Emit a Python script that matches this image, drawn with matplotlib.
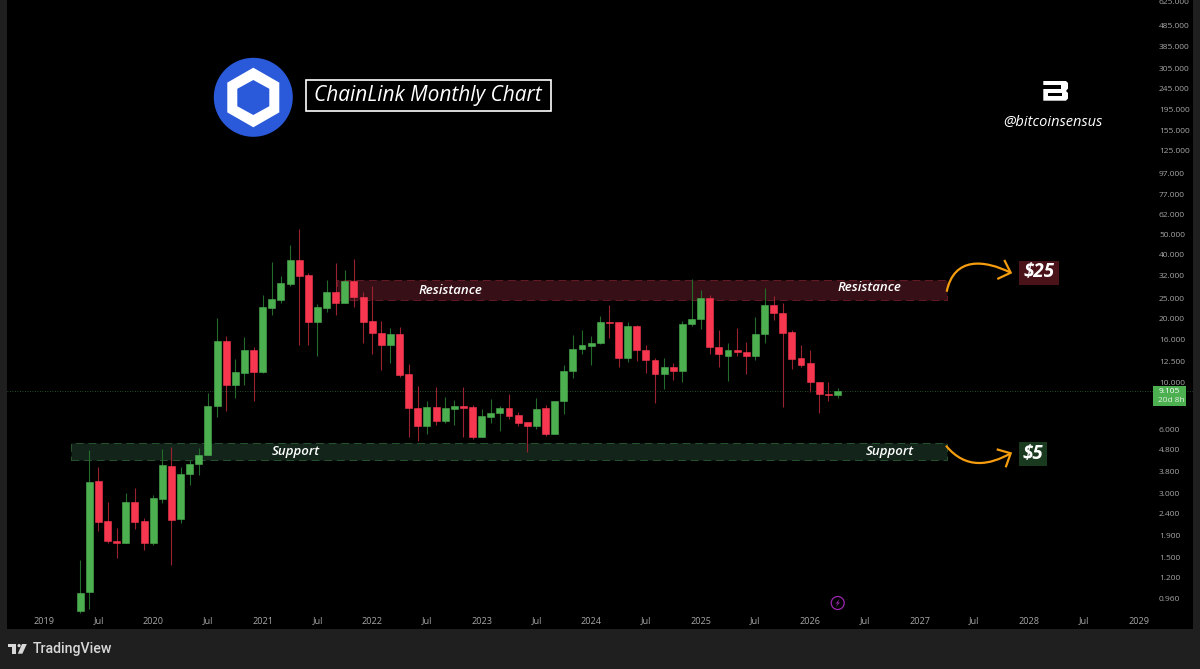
"""ChainLink monthly chart, TradingView dark style."""

import numpy as np
import matplotlib
matplotlib.use("Agg")
import matplotlib.pyplot as plt
from matplotlib.patches import Circle, PathPatch, Polygon, Rectangle
from matplotlib.path import Path
from matplotlib.ticker import FixedFormatter, FixedLocator, NullLocator

BG = "#000000"
PANEL = "#1f1f1f"
UP = "#4CAF50"
DOWN = "#F7374F"
UP_WICK = "#236B2B"
DOWN_WICK = "#9A2230"
AXIS_TEXT = "#a6a6a6"
ORANGE = "#F59D0E"
FONT = ["Open Sans", "DejaVu Sans"]

plt.rcParams["font.family"] = FONT

# months counted from Jan 2019
months = list(range(4, 88))
opens = [
    0.83, 1.03, 3.41, 2.22, 1.78, 1.75, 2.74, 2.21, 1.74, 2.83, 4.05, 2.26,
    3.70, 4.14, 4.55, 7.74, 15.64, 9.75, 11.12, 14.23, 11.2, 22.55, 24.6, 29.3,
    37.9, 32.0, 19.35, 22.4, 26.7, 23.8, 30.1, 25.4, 19.5, 17.2, 15.0, 17.0,
    10.97, 7.57, 6.26, 7.67, 6.58, 7.52, 7.78, 7.65, 5.55, 6.9, 7.15, 7.57,
    7.0, 6.5, 6.26, 7.57, 5.73, 8.15, 11.3, 14.4, 14.85, 15.3, 19.2, 19.2,
    13.0, 18.4, 14.23, 12.76, 11.0, 11.8, 11.35, 18.9, 19.9, 25.0, 14.75, 13.4,
    14.2, 14.0, 13.4, 17.0, 23.3, 21.3, 17.3, 13.0, 12.35, 10.0, 8.86, 8.7,
]
highs = [
    1.46, 4.80, 3.99, 2.73, 2.06, 3.00, 3.17, 2.28, 2.95, 4.86, 4.95, 3.99,
    4.30, 4.93, 8.96, 20.2, 16.6, 12.9, 16.45, 14.75, 25.8, 37.0, 31.9, 44.5,
    52.9, 32.7, 23.4, 30.45, 36.5, 33.9, 38.3, 26.8, 28.5, 19.5, 18.0, 18.3,
    12.2, 9.6, 8.17, 9.54, 8.54, 8.29, 9.54, 7.82, 7.47, 8.4, 7.75, 8.8,
    7.25, 6.52, 8.47, 7.82, 8.2, 12.05, 16.7, 17.68, 16.6, 20.6, 23.1, 19.2,
    19.3, 18.6, 15.0, 13.0, 13.0, 12.4, 19.4, 30.9, 27.3, 25.8, 17.6, 15.3,
    18.0, 15.6, 20.3, 28.0, 25.7, 23.8, 17.6, 15.0, 14.3, 10.0, 10.05, 9.4,
]
lows = [
    0.82, 0.85, 1.98, 1.74, 1.48, 1.74, 2.03, 1.62, 1.71, 2.69, 1.37, 2.16,
    3.29, 3.66, 4.54, 6.89, 7.30, 8.44, 9.71, 8.17, 11.05, 20.9, 23.7, 28.5,
    15.0, 15.0, 13.4, 21.4, 20.9, 23.6, 22.6, 15.4, 13.7, 11.45, 12.4, 10.6,
    5.55, 5.31, 5.74, 6.28, 6.47, 6.31, 5.55, 5.4, 5.5, 6.43, 5.9, 6.73,
    6.2, 4.72, 6.03, 5.6, 5.69, 7.1, 10.5, 13.6, 12.1, 15.25, 16.3, 11.8,
    12.5, 12.6, 11.05, 8.0, 9.3, 10.27, 10.1, 18.5, 17.85, 13.7, 11.8, 10.15,
    13.3, 11.0, 12.7, 15.4, 19.7, 7.65, 11.55, 11.8, 9.0, 7.15, 8.2, 8.44,
]
closes = [
    1.02, 3.39, 2.19, 1.78, 1.75, 2.72, 2.20, 1.74, 2.84, 4.08, 2.25, 3.70,
    4.13, 4.57, 7.74, 15.64, 9.75, 11.2, 14.23, 11.2, 22.65, 24.7, 29.5, 37.9,
    31.8, 19.35, 22.8, 26.7, 23.8, 30.1, 25.3, 19.35, 17.1, 15.0, 17.0, 10.8,
    7.55, 6.22, 7.67, 6.58, 7.57, 7.78, 7.6, 5.55, 6.93, 7.2, 7.57, 6.93,
    6.43, 6.26, 7.47, 5.7, 8.2, 11.3, 14.4, 14.95, 15.4, 19.2, 19.0, 13.0,
    18.4, 14.23, 12.76, 11.0, 11.8, 11.35, 18.9, 20.0, 25.0, 14.7, 13.7, 14.2,
    13.9, 13.4, 17.0, 23.3, 21.2, 17.2, 12.9, 12.1, 10.0, 8.8, 8.76, 9.105,
]
last_price = 9.105

price_ticks = [625, 485, 385, 305, 245, 195, 155, 125, 97, 77, 62, 50, 40, 32, 25,
               20, 16, 12.5, 10, 6, 4.8, 3.8, 3, 2.4, 1.9, 1.5, 1.2, 0.96]
time_labels = ["2019", "Jul", "2020", "Jul", "2021", "Jul", "2022", "Jul", "2023",
               "Jul", "2024", "Jul", "2025", "Jul", "2026", "Jul", "2027", "Jul",
               "2028", "Jul", "2029"]
time_ticks = list(range(0, 121, 6))

resistance_zone = (32.1, 98.96, 24.5, 30.4)
support_zone = (2.96, 98.96, 4.3, 5.2)

fig = plt.figure(figsize=(12, 6.69), dpi=100, facecolor=PANEL)
ax = fig.add_axes([7 / 1200, 1 - 629 / 669, 1186 / 1200, 629 / 669], facecolor=BG)
ax.set_yscale("log")
ax.set_xlim(-4.02, 125.96)
ax.set_ylim(0.686, 638.7)
for side in ax.spines.values():
    side.set_visible(False)

ax.yaxis.tick_right()
ax.yaxis.set_major_locator(FixedLocator(price_ticks))
ax.yaxis.set_major_formatter(FixedFormatter([f"{p:.3f}" for p in price_ticks]))
ax.yaxis.set_minor_locator(NullLocator())
ax.tick_params(axis="y", length=0, pad=-24.5, labelsize=6.0, labelcolor=AXIS_TEXT)
ax.set_xticks(time_ticks, time_labels)
ax.tick_params(axis="x", length=0, pad=-9, labelsize=6.6, labelcolor=AXIS_TEXT)

# zones
for (x0, x1, lo, hi), fill, edge in [
    (resistance_zone, "#361016", "#661A25"),
    (support_zone, "#13241A", "#28542D"),
]:
    ax.add_patch(Rectangle((x0, lo), x1 - x0, hi - lo, facecolor=fill, edgecolor=edge,
                           lw=0.7, linestyle=(0, (8, 5)), zorder=1))

ax.axhline(last_price, color="#2E6B33", lw=0.6, linestyle=(0, (1, 2)), zorder=1.5)

# candles
o = np.array(opens)
c = np.array(closes)
rising = c >= o
wick_colors = [UP_WICK if r else DOWN_WICK for r in rising]
body_colors = [UP if r else DOWN for r in rising]
ax.vlines(months, lows, highs, colors=wick_colors, lw=0.8, zorder=2)
ax.bar(months, np.abs(c - o), bottom=np.minimum(o, c), width=0.76, color=body_colors,
       edgecolor=body_colors, lw=0.4, zorder=3)

# everything drawn on top of the chart is laid out in pixels
ov = fig.add_axes([0, 0, 1, 1], facecolor="none")
ov.set_xlim(0, 1200)
ov.set_ylim(669, 0)
ov.axis("off")

# link logo
ov.add_patch(Circle((253.3, 97.3), 39.5, color="#2A5ADA", lw=0))
ov.add_patch(Polygon([(253.3, 67.7), (279.3, 82.6), (279.3, 112.4), (253.3, 127.3),
                      (227.3, 112.4), (227.3, 82.6)], color="white", lw=0))
ov.add_patch(Polygon([(253.3, 80), (269.3, 88.8), (269.3, 106.2), (253.3, 115),
                      (237.3, 106.2), (237.3, 88.8)], color="#2A5ADA", lw=0))

ov.add_patch(Rectangle((306, 80), 244.7, 31.3, facecolor="black", edgecolor="white", lw=1.2))
ov.text(428, 96, "ChainLink Monthly Chart", color="white", fontsize=15, style="italic",
        weight="medium", ha="center", va="center")

# watermark
ov.add_patch(Polygon([(1043.3, 81), (1066, 81), (1068, 83), (1068, 88.5), (1066, 91),
                      (1068, 93), (1068, 98.5), (1066, 100.7), (1043.3, 100.7)],
                     color="white", lw=0))
ov.add_patch(Rectangle((1043.3, 85.3), 17.7, 3.8, color="black", lw=0))
ov.add_patch(Rectangle((1048, 93), 14, 3, color="black", lw=0))
ov.text(1052.7, 122, "@bitcoinsensus", color="white", fontsize=10.5, style="italic",
        weight="medium", ha="center", va="center")

for x, y, label in [(450.8, 290.5, "Resistance"), (869.8, 287.7, "Resistance"),
                    (296.3, 451, "Support"), (889.5, 452, "Support")]:
    ov.text(x, y, label, color="white", fontsize=9.5, style="italic", weight="semibold",
            ha="center", va="center")

# target tags
ov.add_patch(Rectangle((1019.3, 261), 39.7, 24, color="#4A1219", lw=0))
ov.text(1039.2, 272.5, "$25", color="white", fontsize=13.5, style="italic", weight="bold",
        ha="center", va="center", parse_math=False)
ov.add_patch(Rectangle((1019.3, 442), 27.7, 24, color="#1A3A1F", lw=0))
ov.text(1033.2, 453.5, "$5", color="white", fontsize=13.5, style="italic", weight="bold",
        ha="center", va="center", parse_math=False)

# arrows
curve = [Path.MOVETO, Path.CURVE4, Path.CURVE4, Path.CURVE4]
for pts, head in [
    ([(946.7, 291.7), (954, 256), (985, 260), (1010.7, 272.7)],
     [(1004.3, 260), (1010.7, 272.7), (997.3, 279)]),
    ([(946, 445.7), (966, 470), (990, 465), (1010.7, 453.3)],
     [(996.7, 449.3), (1010.7, 453.3), (1005.7, 467.3)]),
]:
    ov.add_patch(PathPatch(Path(pts, curve), facecolor="none", edgecolor=ORANGE, lw=1.6))
    ov.add_patch(Polygon(head, closed=False, fill=False, edgecolor=ORANGE, lw=1.6))

# last price tag
ov.add_patch(Rectangle((1153.3, 386), 32.4, 19.7, color=UP, lw=0))
ov.text(1158.5, 391.3, "9.105", color="white", fontsize=6.0, va="center")
ov.text(1158.5, 400.3, "20d 8h", color="#DDEFDD", fontsize=6.0, va="center")

# lightning marker
ov.add_patch(Circle((837.7, 603), 6.5, facecolor="none", edgecolor="#9C27B0", lw=0.9))
ov.add_patch(Polygon([(839.8, 598.8), (835.6, 603.6), (837.8, 603.4), (835.8, 607.2),
                      (840, 602.4), (837.8, 602.6)], color="#9C27B0", lw=0))

# footer
ov.add_patch(Rectangle((7.7, 644), 8.2, 3.2, color="#D8D8D8", lw=0))
ov.add_patch(Rectangle((11.8, 644), 4.1, 9.7, color="#D8D8D8", lw=0))
ov.add_patch(Circle((19.1, 645.6), 1.6, color="#D8D8D8", lw=0))
ov.add_patch(Polygon([(22, 644), (26.8, 644), (22.4, 653.7), (17.8, 653.7)], color="#D8D8D8", lw=0))
ov.text(32.5, 649.3, "TradingView", color="#D8D8D8", fontsize=10.2, weight="medium",
        family=["Roboto", "DejaVu Sans"], va="center")

fig.savefig("out.png", dpi=100, facecolor=fig.get_facecolor())
